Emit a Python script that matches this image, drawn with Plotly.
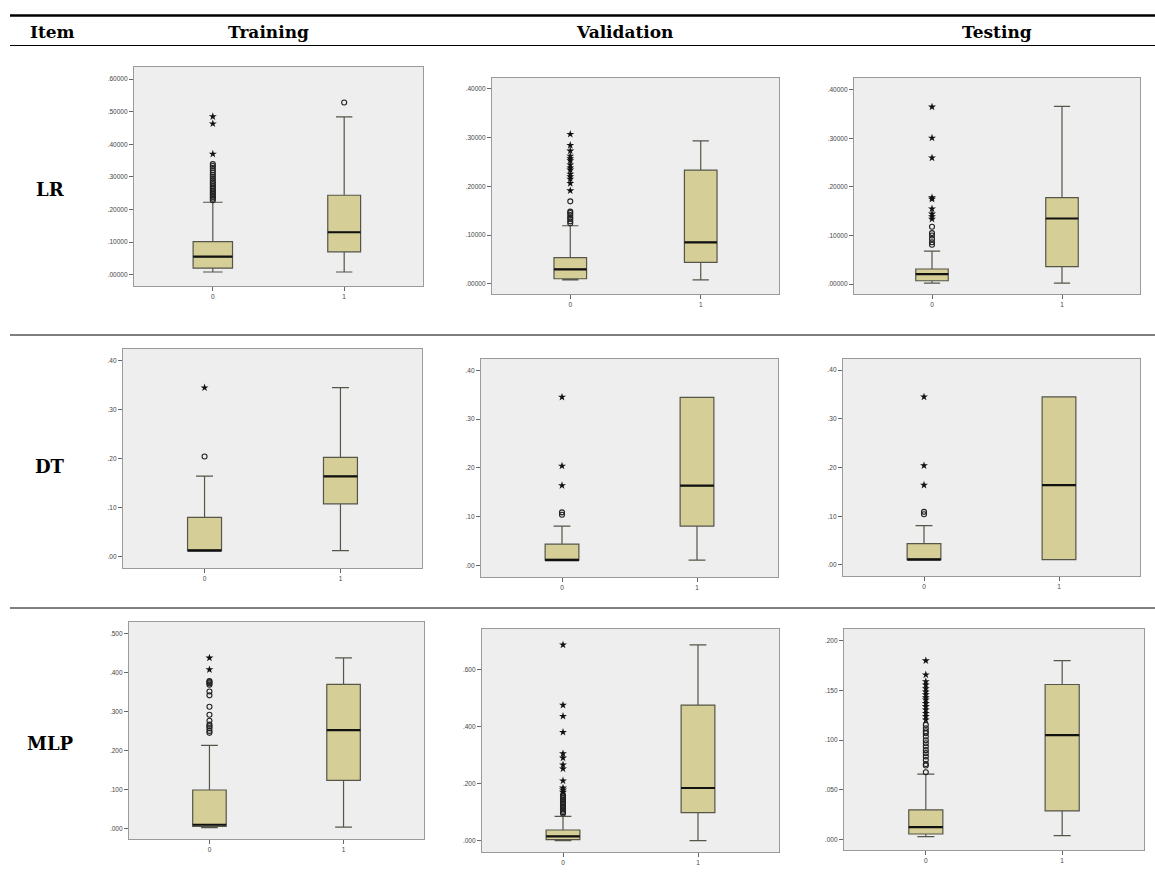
import plotly.graph_objects as go

# ---------------- data ----------------
row_labels = ["LR", "DT", "MLP"]
col_labels = ["Training", "Validation", "Testing"]
categories = [0, 1]
cat_ticktext = ["0", "1"]

# box stats: [lowerfence, q1, median, q3, upperfence]
LR_train_g0 = [0.008, 0.0196, 0.055, 0.101, 0.222]
LR_train_g1 = [0.008, 0.0696, 0.130, 0.2435, 0.484]
LR_train_circ0 = [0.228, 0.233, 0.238, 0.243, 0.248, 0.252, 0.257, 0.262, 0.267, 0.272,
                  0.277, 0.282, 0.288, 0.294, 0.300, 0.306, 0.313, 0.320, 0.327, 0.333, 0.339]
LR_train_star0 = [0.370, 0.463, 0.485]
LR_train_circ1 = [0.528]
LR_train_star1 = []

LR_val_g0 = [0.008, 0.0103, 0.0296, 0.0534, 0.119]
LR_val_g1 = [0.008, 0.044, 0.085, 0.233, 0.293]
LR_val_circ0 = [0.124, 0.128, 0.133, 0.136, 0.141, 0.145, 0.148, 0.169]
LR_val_star0 = [0.191, 0.206, 0.215, 0.220, 0.225, 0.2335, 0.238, 0.244, 0.2526, 0.257,
                0.262, 0.2725, 0.284, 0.3067]
LR_val_circ1 = []
LR_val_star1 = []

LR_test_g0 = [0.002, 0.0068, 0.0205, 0.031, 0.068]
LR_test_g1 = [0.002, 0.036, 0.135, 0.178, 0.366]
LR_test_circ0 = [0.081, 0.086, 0.093, 0.100, 0.105, 0.118]
LR_test_star0 = [0.134, 0.139, 0.1445, 0.155, 0.175, 0.178, 0.260, 0.301, 0.365]
LR_test_circ1 = []
LR_test_star1 = []

DT_train_g0 = [0.0123, 0.0123, 0.0123, 0.0805, 0.1644]
DT_train_g1 = [0.0123, 0.108, 0.164, 0.203, 0.345]
DT_train_circ0 = [0.2045]
DT_train_star0 = [0.345]
DT_train_circ1 = []
DT_train_star1 = []

DT_val_g0 = [0.011, 0.011, 0.011, 0.0438, 0.0808]
DT_val_g1 = [0.011, 0.0808, 0.1636, 0.3445, 0.3445]
DT_val_circ0 = [0.104, 0.109]
DT_val_star0 = [0.164, 0.204, 0.345]
DT_val_circ1 = []
DT_val_star1 = []

DT_test_g0 = [0.011, 0.011, 0.011, 0.0438, 0.0808]
DT_test_g1 = [0.011, 0.011, 0.164, 0.345, 0.345]
DT_test_circ0 = [0.104, 0.109]
DT_test_star0 = [0.164, 0.204, 0.345]
DT_test_circ1 = []
DT_test_star1 = []

MLP_train_g0 = [0.002, 0.005, 0.0095, 0.0985, 0.2128]
MLP_train_g1 = [0.0035, 0.123, 0.252, 0.369, 0.437]
MLP_train_circ0 = [0.245, 0.250, 0.257, 0.262, 0.266, 0.276, 0.2915, 0.312, 0.341, 0.351,
                   0.3685, 0.372, 0.375, 0.378]
MLP_train_star0 = [0.407, 0.437]
MLP_train_circ1 = []
MLP_train_star1 = []

MLP_val_g0 = [0.0, 0.0035, 0.015, 0.0375, 0.085]
MLP_val_g1 = [0.0, 0.098, 0.1845, 0.475, 0.686]
MLP_val_circ0 = [0.095, 0.100, 0.105, 0.110, 0.115, 0.120, 0.125, 0.130, 0.135, 0.140,
                 0.145, 0.150, 0.155, 0.160]
MLP_val_star0 = [0.170, 0.178, 0.185, 0.210, 0.252, 0.266, 0.290, 0.305, 0.380, 0.436,
                 0.475, 0.686]
MLP_val_circ1 = []
MLP_val_star1 = []

MLP_test_g0 = [0.003, 0.0057, 0.0125, 0.030, 0.0658]
MLP_test_g1 = [0.004, 0.0289, 0.105, 0.156, 0.180]
MLP_test_circ0 = [0.0678, 0.0745, 0.076, 0.080, 0.0836, 0.087, 0.090, 0.0936, 0.097, 0.100,
                  0.1037, 0.107, 0.109, 0.112, 0.1154]
MLP_test_star0 = [0.1205, 0.124, 0.127, 0.1305, 0.134, 0.137, 0.1406, 0.143, 0.146, 0.1487,
                  0.152, 0.1557, 0.159, 0.1658, 0.180]
MLP_test_circ1 = []
MLP_test_star1 = []

# y tick values and labels
ticks_LR_train = [0.0, 0.1, 0.2, 0.3, 0.4, 0.5, 0.6]
labels_LR_train = [".00000", ".10000", ".20000", ".30000", ".40000", ".50000", ".60000"]
ticks_LR = [0.0, 0.1, 0.2, 0.3, 0.4]
labels_LR = [".00000", ".10000", ".20000", ".30000", ".40000"]
ticks_DT = [0.0, 0.1, 0.2, 0.3, 0.4]
labels_DT = [".00", ".10", ".20", ".30", ".40"]
ticks_MLP_train = [0.0, 0.1, 0.2, 0.3, 0.4, 0.5]
labels_MLP_train = [".000", ".100", ".200", ".300", ".400", ".500"]
ticks_MLP_val = [0.0, 0.2, 0.4, 0.6]
labels_MLP_val = [".000", ".200", ".400", ".600"]
ticks_MLP_test = [0.0, 0.05, 0.10, 0.15, 0.20]
labels_MLP_test = [".000", ".050", ".100", ".150", ".200"]

# ---------------- layout / style ----------------
W, H = 1155, 875
BOX_FILL = "#d5cf97"
BOX_LINE = "#55554a"
FRAME = "#9a9a9a"
PLOT_BG = "#eeeeee"
TICK_FONT = dict(family="Liberation Sans, Arial", size=6.5, color="#444444")
SERIF = "DejaVu Serif, Liberation Serif, serif"

# frame pixel boxes: (left, right, top, bottom), y range, ticks, box widths
panels = [
    dict(g=(LR_train_g0, LR_train_g1), c=(LR_train_circ0, LR_train_circ1), s=(LR_train_star0, LR_train_star1),
         px=(134, 423, 67, 286), yr=(-0.035, 0.637), t=(ticks_LR_train, labels_LR_train), w=(0.30, 0.25)),
    dict(g=(LR_val_g0, LR_val_g1), c=(LR_val_circ0, LR_val_circ1), s=(LR_val_star0, LR_val_star1),
         px=(492, 779, 78, 294), yr=(-0.021, 0.422), t=(ticks_LR, labels_LR), w=(0.25, 0.25)),
    dict(g=(LR_test_g0, LR_test_g1), c=(LR_test_circ0, LR_test_circ1), s=(LR_test_star0, LR_test_star1),
         px=(854, 1140, 78, 294), yr=(-0.0205, 0.4245), t=(ticks_LR, labels_LR), w=(0.25, 0.25)),
    dict(g=(DT_train_g0, DT_train_g1), c=(DT_train_circ0, DT_train_circ1), s=(DT_train_star0, DT_train_star1),
         px=(123, 422, 349, 568), yr=(-0.023, 0.424), t=(ticks_DT, labels_DT), w=(0.25, 0.25)),
    dict(g=(DT_val_g0, DT_val_g1), c=(DT_val_circ0, DT_val_circ1), s=(DT_val_star0, DT_val_star1),
         px=(481, 778, 359, 577), yr=(-0.0234, 0.423), t=(ticks_DT, labels_DT), w=(0.25, 0.25)),
    dict(g=(DT_test_g0, DT_test_g1), c=(DT_test_circ0, DT_test_circ1), s=(DT_test_star0, DT_test_star1),
         px=(843, 1140, 359, 576), yr=(-0.0226, 0.4227), t=(ticks_DT, labels_DT), w=(0.25, 0.25)),
    dict(g=(MLP_train_g0, MLP_train_g1), c=(MLP_train_circ0, MLP_train_circ1), s=(MLP_train_star0, MLP_train_star1),
         px=(129, 424, 622, 839), yr=(-0.027, 0.529), t=(ticks_MLP_train, labels_MLP_train), w=(0.25, 0.25)),
    dict(g=(MLP_val_g0, MLP_val_g1), c=(MLP_val_circ0, MLP_val_circ1), s=(MLP_val_star0, MLP_val_star1),
         px=(482, 779, 629, 852), yr=(-0.0396, 0.7415), t=(ticks_MLP_val, labels_MLP_val), w=(0.25, 0.25)),
    dict(g=(MLP_test_g0, MLP_test_g1), c=(MLP_test_circ0, MLP_test_circ1), s=(MLP_test_star0, MLP_test_star1),
         px=(844, 1144, 629, 850), yr=(-0.0104, 0.2118), t=(ticks_MLP_test, labels_MLP_test), w=(0.25, 0.25)),
]

fig = go.Figure()
layout_axes = {}

for i, p in enumerate(panels):
    n = i + 1
    xa = "x" if n == 1 else f"x{n}"
    ya = "y" if n == 1 else f"y{n}"
    xkey = "xaxis" if n == 1 else f"xaxis{n}"
    ykey = "yaxis" if n == 1 else f"yaxis{n}"
    l, r, t, b = p["px"]
    layout_axes[xkey] = dict(
        domain=[l / W, r / W], anchor=ya, range=[-0.6, 1.6],
        tickvals=categories, ticktext=cat_ticktext, ticks="outside", ticklen=4,
        tickcolor="#666666", tickwidth=1, tickfont=TICK_FONT,
        showgrid=False, zeroline=False, showline=True, mirror=True,
        linecolor=FRAME, linewidth=1.3, fixedrange=True,
    )
    layout_axes[ykey] = dict(
        domain=[1 - b / H, 1 - t / H], anchor=xa, range=list(p["yr"]),
        tickvals=p["t"][0], ticktext=p["t"][1], ticks="outside", ticklen=4,
        tickcolor="#666666", tickwidth=1, tickfont=TICK_FONT,
        showgrid=False, zeroline=False, showline=True, mirror=True,
        linecolor=FRAME, linewidth=1.3, fixedrange=True,
    )
    for gi, cat in enumerate(categories):
        lo, q1, med, q3, hi = p["g"][gi]
        w = p["w"][gi]
        fig.add_trace(go.Box(
            x=[cat], lowerfence=[lo], q1=[q1], median=[med], q3=[q3], upperfence=[hi],
            width=w, whiskerwidth=0.5, fillcolor=BOX_FILL,
            line=dict(color=BOX_LINE, width=1.2), boxpoints=False,
            xaxis=xa, yaxis=ya, showlegend=False, hoverinfo="skip",
        ))
        fig.add_trace(go.Scatter(
            x=[cat - w / 2, cat + w / 2], y=[med, med], mode="lines",
            line=dict(color="#111111", width=2.2), xaxis=xa, yaxis=ya,
            showlegend=False, hoverinfo="skip",
        ))
        circ = p["c"][gi]
        if circ:
            fig.add_trace(go.Scatter(
                x=[cat] * len(circ), y=circ, mode="markers",
                marker=dict(symbol="circle-open", size=5, color="#222222", line=dict(width=1.1)),
                xaxis=xa, yaxis=ya, showlegend=False, hoverinfo="skip",
            ))
        star = p["s"][gi]
        if star:
            fig.add_trace(go.Scatter(
                x=[cat] * len(star), y=star, mode="markers",
                marker=dict(symbol="star", size=6, color="#111111"),
                xaxis=xa, yaxis=ya, showlegend=False, hoverinfo="skip",
            ))

# table rules
shapes = []
def hline(y, width):
    return dict(type="line", xref="paper", yref="paper", x0=10 / W, x1=1.0,
                y0=1 - y / H, y1=1 - y / H, line=dict(color="black", width=width))
shapes.append(hline(15.5, 2.6))
shapes.append(hline(45.5, 1.2))
shapes.append(hline(335, 1.0))
shapes.append(hline(608, 1.0))

annotations = []
header_x = [268, 624, 997]
annotations.append(dict(text="<b>Item</b>", x=52 / W, y=1 - 32 / H, xref="paper", yref="paper",
                        showarrow=False, xanchor="center", yanchor="middle",
                        font=dict(family=SERIF, size=17, color="black")))
for hx, lab in zip(header_x, col_labels):
    annotations.append(dict(text=f"<b>{lab}</b>", x=hx / W, y=1 - 32 / H, xref="paper", yref="paper",
                            showarrow=False, xanchor="center", yanchor="middle",
                            font=dict(family=SERIF, size=17, color="black")))
row_y = [190, 466, 743]
for ry, lab in zip(row_y, row_labels):
    annotations.append(dict(text=f"<b>{lab}</b>", x=50 / W, y=1 - ry / H, xref="paper", yref="paper",
                            showarrow=False, xanchor="center", yanchor="middle",
                            font=dict(family=SERIF, size=18, color="black")))

fig.update_layout(
    width=W, height=H, margin=dict(l=0, r=0, t=0, b=0),
    paper_bgcolor="white", plot_bgcolor=PLOT_BG,
    shapes=shapes, annotations=annotations, showlegend=False,
    **layout_axes,
)

fig.write_html("out.html", config={"displayModeBar": False},
               post_script="document.body.style.margin='0';document.body.style.overflow='hidden';")
